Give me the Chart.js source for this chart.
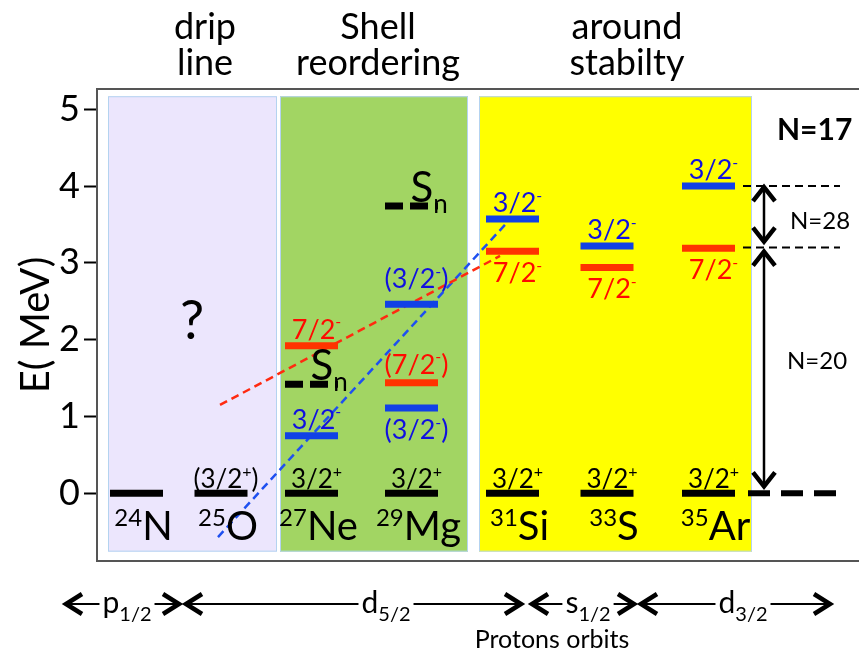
<!DOCTYPE html>
<html>
<head>
<meta charset="utf-8">
<script src="https://cdn.jsdelivr.net/npm/chart.js@4.4.0/dist/chart.umd.min.js"></script>
<style>
  html, body { margin: 0; padding: 0; background: #fff; }
  #wrap { width: 859px; height: 660px; }
</style>
</head>
<body>
<div id="wrap"><canvas id="levels" width="859" height="660"></canvas></div>
<script>
/* ---------------- DATA ---------------- */
const nucleusMass = ["24", "25", "27", "29", "31", "33", "35"];
const nucleusSymbol = ["N", "O", "Ne", "Mg", "Si", "S", "Ar"];
const nucleusX = [0.395, 1.24, 2.145, 3.145, 4.155, 5.10, 6.115];

const groundEnergy = [0, 0, 0, 0, 0, 0, 0];
const groundSpin = ["", "(3/2+)", "3/2+", "3/2+", "3/2+", "3/2+", "3/2+"];

const p32Nucleus = [2, 3, 3, 4, 5, 6];
const p32Energy = [0.75, 2.46, 1.11, 3.57, 3.22, 4.00];
const p32Spin = ["3/2-", "(3/2-)", "(3/2-)", "3/2-", "3/2-", "3/2-"];

const f72Nucleus = [2, 3, 4, 5, 6];
const f72Energy = [1.92, 1.44, 3.15, 2.94, 3.19];
const f72Spin = ["7/2-", "(7/2-)", "7/2-", "7/2-", "7/2-"];

const snNucleus = [2, 3];
const snEnergy = [1.42, 3.74];

const f72TrendX = [1.23, 4.03];
const f72TrendE = [1.15, 3.09];
const p32TrendX = [1.21, 4.09];
const p32TrendE = [-0.57, 3.51];

const yTicks = [0, 1, 2, 3, 4, 5];

const regionNames = [["drip", "line"], ["Shell", "reordering"], ["around", "stabilty"]];
const regionFrom = [0.11, 1.83, 3.82];
const regionTo = [1.80, 3.71, 6.55];

const gapN28 = [3.20, 4.00];
const gapN20 = [0, 3.20];

const orbitName = ["p", "d", "s", "d"];
const orbitJ = ["1/2", "5/2", "1/2", "3/2"];
const orbitFrom = [-0.32, 0.88, 4.34, 5.43];
const orbitTo = [0.83, 4.25, 5.38, 7.34];

/* ---------------- STYLE ---------------- */
const FONT = "Lato, 'Open Sans', sans-serif";
const BAR_HALF = 0.265;
const BLUE_BAR = "#1141E6";
const RED_BAR = "#FF3300";
const BLUE_TXT = "#1010E0";
const RED_TXT = "#FF0A00";
const regionColor = ["#ECE6FD", "#A2D563", "#FFFF00"];
const regionBottom = -0.76, regionTop = 5.17;
const titleX = [1.08, 2.81, 5.30];
const orbitLabelX = [0.30, 2.89, 4.91, 6.46];
const p32Below = [false, false, true, false, false, false];
const f72Below = [false, false, true, true, true];
const gapX = 6.67;
const sideFrom = 6.46, sideTo = 7.43;

function font(size, bold) { return (bold ? "bold " : "") + size + "px " + FONT; }

function spinParts(spin, size) {
  const m = spin.match(/^(\(?)([\d\/]+)([+-])(\)?)$/);
  return [
    { t: m[1] + m[2], size: size },
    { t: m[3], size: Math.round(size * 0.6), dy: -size * 0.42 },
    { t: m[4], size: size }
  ];
}

function drawParts(ctx, parts, x, y, align, color) {
  let w = 0;
  parts.forEach(p => { ctx.font = font(p.size, p.bold); w += ctx.measureText(p.t).width; });
  let cx = align === "center" ? x - w / 2 : align === "right" ? x - w : x;
  ctx.textAlign = "left";
  ctx.textBaseline = "alphabetic";
  parts.forEach(p => {
    ctx.font = font(p.size, p.bold);
    ctx.fillStyle = p.color || color;
    ctx.fillText(p.t, cx, y + (p.dy || 0));
    cx += ctx.measureText(p.t).width;
  });
}

function chevron(ctx, x, y, dir, vertical) {
  // dir = +1 points right/down, -1 left/up
  ctx.beginPath();
  if (vertical) {
    ctx.moveTo(x - 11, y - dir * 14); ctx.lineTo(x, y); ctx.lineTo(x + 11, y - dir * 14);
  } else {
    ctx.moveTo(x - dir * 16, y - 10); ctx.lineTo(x, y); ctx.lineTo(x - dir * 16, y + 10);
  }
  ctx.stroke();
}

/* ---------------- DATASETS ---------------- */
function levelSet(nuc, e, color, dash) {
  return {
    showLine: true,
    data: [{ x: nucleusX[nuc] - BAR_HALF, y: e }, { x: nucleusX[nuc] + BAR_HALF, y: e }],
    borderColor: color,
    borderWidth: 7,
    borderDash: dash || [],
    borderCapStyle: "butt",
    pointRadius: 0
  };
}

function segmentSet(xs, es, color, width, dash) {
  return {
    showLine: true,
    data: xs.map((x, i) => ({ x: x, y: es[i] })),
    borderColor: color,
    borderWidth: width,
    borderDash: dash,
    borderCapStyle: "butt",
    pointRadius: 0
  };
}

const datasets = [];
groundEnergy.forEach((e, i) => datasets.push(levelSet(i, e, "#000")));
p32Energy.forEach((e, i) => datasets.push(levelSet(p32Nucleus[i], e, BLUE_BAR)));
f72Energy.forEach((e, i) => datasets.push(levelSet(f72Nucleus[i], e, RED_BAR)));
snEnergy.forEach((e, i) => datasets.push(levelSet(snNucleus[i], e, "#000", [18, 7])));
datasets.push(segmentSet(f72TrendX, f72TrendE, "#FF2A10", 2.5, [8, 5]));
datasets.push(segmentSet(p32TrendX, p32TrendE, "#1E50F0", 2.5, [8, 5]));
datasets.push(segmentSet([sideFrom, sideTo], [gapN28[1], gapN28[1]], "#000", 2, [8, 5]));
datasets.push(segmentSet([sideFrom, sideTo], [gapN28[0], gapN28[0]], "#000", 2, [8, 5]));
datasets.push(segmentSet([sideFrom + 0.05, sideTo], [gapN20[0], gapN20[0]], "#000", 6, [22, 11]));

/* ---------------- DECORATION PLUGIN ---------------- */
const levelScheme = {
  id: "levelScheme",
  beforeDatasetsDraw(chart) {
    const { ctx, scales: { x, y } } = chart;
    ctx.save();
    regionFrom.forEach((x0, i) => {
      const l = x.getPixelForValue(x0), r = x.getPixelForValue(regionTo[i]);
      const t = y.getPixelForValue(regionTop), b = y.getPixelForValue(regionBottom);
      ctx.fillStyle = regionColor[i];
      ctx.fillRect(l, t, r - l, b - t);
      ctx.strokeStyle = "#B4D3F0";
      ctx.lineWidth = 1;
      ctx.strokeRect(l + 0.5, t + 0.5, r - l - 1, b - t - 1);
    });
    ctx.restore();
  },
  afterDatasetsDraw(chart) {
    const { ctx, scales: { x, y } } = chart;
    ctx.save();
    const off = 0.05;

    // ground state spins and nucleus names
    groundSpin.forEach((s, i) => {
      const cx = x.getPixelForValue(nucleusX[i] + off);
      if (s) drawParts(ctx, spinParts(s, 26), cx, y.getPixelForValue(groundEnergy[i]) - 5, "center", "#000");
      drawParts(ctx, [
        { t: nucleusMass[i], size: 24, dy: -14 },
        { t: nucleusSymbol[i], size: 40 }
      ], x.getPixelForValue(nucleusX[i] + 0.07), y.getPixelForValue(0) + 47, "center", "#000");
    });

    // 3/2- states
    p32Energy.forEach((e, i) => {
      const cx = x.getPixelForValue(nucleusX[p32Nucleus[i]] + off);
      const py = y.getPixelForValue(e);
      let by = p32Below[i] ? py + 31 : py - 7;
      if (p32Spin[i][0] === "(" && !p32Below[i]) by = py - 16;
      drawParts(ctx, spinParts(p32Spin[i], 27), cx, by, "center", BLUE_TXT);
    });

    // 7/2- states
    f72Energy.forEach((e, i) => {
      const cx = x.getPixelForValue(nucleusX[f72Nucleus[i]] + off);
      const py = y.getPixelForValue(e);
      let by = f72Below[i] ? py + 31 : py - 7;
      if (f72Spin[i][0] === "(" && !f72Below[i]) by = py - 9;
      drawParts(ctx, spinParts(f72Spin[i], 27), cx, by, "center", RED_TXT);
    });

    // neutron separation energies
    snEnergy.forEach((e, i) => {
      const lx = x.getPixelForValue(nucleusX[snNucleus[i]] - 0.01);
      const py = y.getPixelForValue(e);
      drawParts(ctx, [{ t: "S", size: 42 }, { t: "n", size: 26, dy: 11 }], lx, py - 4, "left", "#000");
    });

    // unknown drip line
    ctx.fillStyle = "#000";
    ctx.font = font(54);
    ctx.textAlign = "center";
    ctx.textBaseline = "middle";
    ctx.fillText("?", x.getPixelForValue(0.95), y.getPixelForValue(2.24));

    // shell gap arrows
    const gx = x.getPixelForValue(gapX);
    ctx.strokeStyle = "#000";
    ctx.lineCap = "butt";
    [gapN28, gapN20].forEach((g, k) => {
      const top = y.getPixelForValue(g[1]) + (k ? 3 : 0);
      const bot = y.getPixelForValue(g[0]) - (k ? 6 : 5);
      ctx.lineWidth = 2.5;
      ctx.beginPath(); ctx.moveTo(gx, top); ctx.lineTo(gx, bot); ctx.stroke();
      ctx.lineWidth = 4.5;
      chevron(ctx, gx, top + 1, -1, true);
      chevron(ctx, gx, bot - 1, 1, true);
    });
    ctx.textAlign = "left";
    ctx.textBaseline = "middle";
    ctx.font = font(24);
    ctx.fillText("N=28", x.getPixelForValue(6.93), y.getPixelForValue(3.54));
    ctx.fillText("N=20", x.getPixelForValue(6.90), y.getPixelForValue(1.72));
    ctx.font = font(30, true);
    ctx.fillText("N=17", x.getPixelForValue(6.80), y.getPixelForValue(4.73));
    ctx.restore();
  },
  afterDraw(chart) {
    const { ctx, chartArea: a, scales: { x } } = chart;
    ctx.save();
    // frame top and bottom
    ctx.strokeStyle = "#555";
    ctx.lineWidth = 2;
    ctx.beginPath();
    ctx.moveTo(a.left, a.top); ctx.lineTo(a.right, a.top);
    ctx.moveTo(a.left, a.bottom); ctx.lineTo(a.right, a.bottom);
    ctx.stroke();

    // region titles
    ctx.fillStyle = "#000";
    ctx.font = font(36);
    ctx.textAlign = "center";
    ctx.textBaseline = "alphabetic";
    regionNames.forEach((lines, i) => {
      lines.forEach((t, j) => ctx.fillText(t, x.getPixelForValue(titleX[i]), 39 + j * 36));
    });

    // proton orbits row
    const rowY = 604;
    ctx.strokeStyle = "#000";
    orbitName.forEach((n, i) => {
      const parts = [{ t: n, size: 30 }, { t: orbitJ[i], size: 20, dy: 8 }];
      let w = 0;
      parts.forEach(p => { ctx.font = font(p.size); w += ctx.measureText(p.t).width; });
      const cx = x.getPixelForValue(orbitLabelX[i]);
      drawParts(ctx, parts, cx, rowY + 9, "center", "#000");
      const l = x.getPixelForValue(orbitFrom[i]), r = x.getPixelForValue(orbitTo[i]);
      const gap = w > 50 ? 18 : 3;
      ctx.lineWidth = 2;
      ctx.beginPath();
      if (cx - w / 2 - gap > l) { ctx.moveTo(l, rowY); ctx.lineTo(cx - w / 2 - gap, rowY); }
      if (cx + w / 2 + gap < r) { ctx.moveTo(cx + w / 2 + gap, rowY); ctx.lineTo(r, rowY); }
      ctx.stroke();
      ctx.lineWidth = 4.5;
      chevron(ctx, l + 1, rowY, -1, false);
      chevron(ctx, r - 1, rowY, 1, false);
    });
    ctx.font = font(25);
    ctx.textAlign = "center";
    ctx.fillStyle = "#000";
    ctx.fillText("Protons orbits", x.getPixelForValue(4.55), 648);
    ctx.restore();
  }
};

/* ---------------- CHART ---------------- */
new Chart(document.getElementById("levels"), {
  type: "scatter",
  data: { datasets: datasets },
  options: {
    responsive: false,
    animation: false,
    devicePixelRatio: 1,
    layout: { padding: { top: 89, bottom: 99, left: 0, right: 0 } },
    plugins: { legend: { display: false }, tooltip: { enabled: false } },
    scales: {
      x: { type: "linear", min: 0, max: 7.62, display: false },
      y: {
        type: "linear",
        min: -0.8815,
        max: 5.264,
        afterBuildTicks: s => { s.ticks = yTicks.map(v => ({ value: v })); },
        afterFit: s => { s.width = 97; },
        ticks: { color: "#000", font: { family: FONT, size: 36 }, padding: 4 },
        grid: { drawOnChartArea: false, drawTicks: true, tickLength: 13, tickWidth: 2, tickColor: "#000" },
        border: { display: true, color: "#555", width: 2 },
        title: { display: true, text: "E( MeV)", color: "#000", font: { family: FONT, size: 40 }, padding: { top: 12, bottom: 0 } }
      }
    }
  },
  plugins: [levelScheme]
});
</script>
</body>
</html>
